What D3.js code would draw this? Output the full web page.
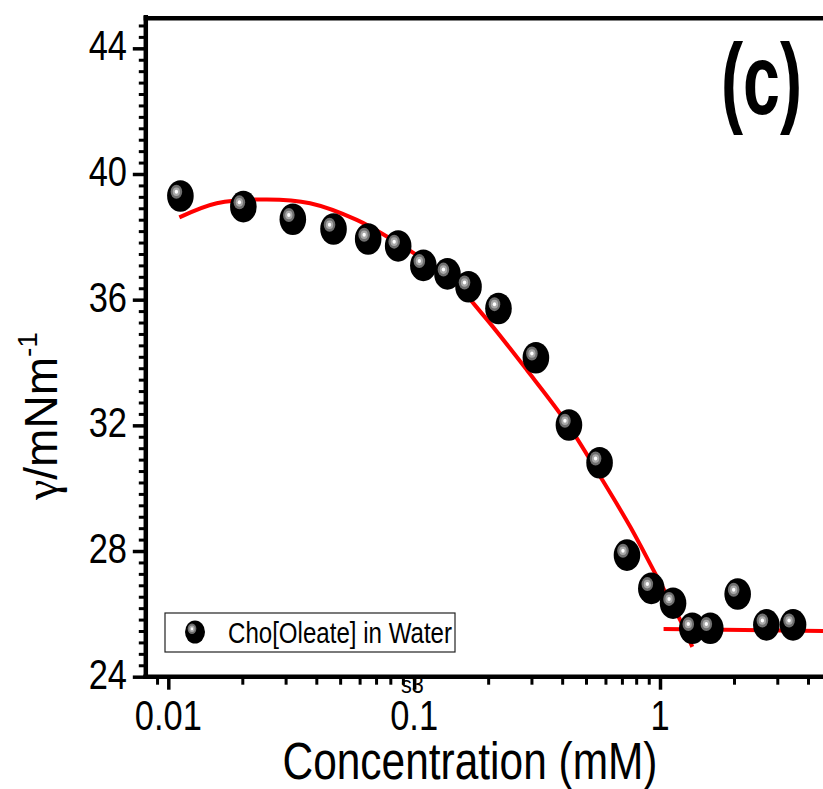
<!DOCTYPE html>
<html>
<head>
<meta charset="utf-8">
<script src="https://cdn.jsdelivr.net/npm/d3@7/dist/d3.min.js"></script>
<style>
  html, body { margin: 0; padding: 0; background: #fff; }
  svg { display: block; }
</style>
</head>
<body>
<svg id="chart" width="823" height="789"></svg>
<script>
// Surface tension of Cho[Oleate] in water vs. concentration
const concentration = [0.0112, 0.0202, 0.0321, 0.0470, 0.0650, 0.0861, 0.109, 0.1366, 0.1664, 0.2203,
                       0.3128, 0.4262, 0.5678, 0.7339, 0.922, 1.13, 1.353, 1.602, 2.07, 2.708, 3.477];
const tension = [39.30, 38.96, 38.56, 38.25, 37.93, 37.71, 37.09, 36.82, 36.41, 35.72,
                 34.15, 32.01, 30.81, 27.87, 26.81, 26.34, 25.54, 25.54, 26.63, 25.65, 25.65];

// fitted curve below the CMC
const fitConc = [0.01109, 0.01574, 0.02514, 0.03773, 0.0584, 0.0798, 0.1026, 0.1401, 0.1914,
                 0.2875, 0.4183, 0.5715, 0.7568, 0.972, 1.209, 1.353];
const fitTension = [38.62, 39.07, 39.19, 39.07, 38.54, 37.95, 37.42, 36.68, 35.50,
                    33.76, 32.07, 30.37, 28.77, 27.18, 25.80, 24.95];
// plateau line above the CMC
const plateauConc = [1.034, 10];
const plateauTension = [25.52, 25.42];

const xMajorTicks = [0.01, 0.1, 1];
const xTickLabels = ["0.01", "0.1", "1"];
const yMajorTicks = [24, 28, 32, 36, 40, 44];
const yTickLabels = ["24", "28", "32", "36", "40", "44"];

const seriesName = "Cho[Oleate] in Water";
const panelLabel = "(c)";

const svg = d3.select("#chart");
const sans = "'Liberation Sans', Arial, sans-serif";

// condensed lettering: squeeze the rendered text horizontally
function condense(sel, factor) {
  sel.each(function () {
    const w = this.getComputedTextLength();
    d3.select(this).attr("textLength", w * factor).attr("lengthAdjust", "spacingAndGlyphs");
  });
}

const plotLeft = 145.8, plotBottom = 676.7, plotTop = 16.9;
const xDomain = [0.0081, 9.5];
const decadePx = 245.85;
const plotRight = plotLeft + (Math.log10(xDomain[1]) - Math.log10(xDomain[0])) * decadePx;

const x = d3.scaleLog().domain(xDomain).range([plotLeft, plotRight]);
const y = d3.scaleLinear().domain([24, 45]).range([plotBottom, plotTop]);

// stray annotation partly under the bottom axis
svg.append("text")
  .attr("x", 401).attr("y", 693)
  .attr("font-family", sans).attr("font-size", 24)
  .text("s3")
  .call(condense, 0.9);

// fitted curve and plateau
const line = d3.line()
  .x(d => x(d[0])).y(d => y(d[1]))
  .curve(d3.curveCatmullRom.alpha(0.5));

svg.append("path")
  .datum(d3.zip(fitConc, fitTension))
  .attr("d", line)
  .attr("fill", "none").attr("stroke", "#ff0000").attr("stroke-width", 4);

svg.append("path")
  .datum(d3.zip(plateauConc, plateauTension))
  .attr("d", d3.line().x(d => x(d[0])).y(d => y(d[1])))
  .attr("fill", "none").attr("stroke", "#ff0000").attr("stroke-width", 4);

// ball marker: black body with a stepped grey highlight
function ball(g, cx, cy, rx, ry) {
  const s = rx / 13.3;
  g.append("ellipse").attr("cx", cx).attr("cy", cy).attr("rx", rx).attr("ry", ry).attr("fill", "#000");
  const hx = cx - 4 * s, hy = cy - 4.3 * s;
  g.append("ellipse").attr("cx", hx).attr("cy", hy).attr("rx", 5.8 * s).attr("ry", 7.0 * s).attr("fill", "#6f6f6f");
  g.append("ellipse").attr("cx", hx).attr("cy", hy).attr("rx", 3.6 * s).attr("ry", 4.3 * s).attr("fill", "#a9a9a9");
  g.append("ellipse").attr("cx", hx).attr("cy", hy).attr("rx", 1.7 * s).attr("ry", 2.0 * s).attr("fill", "#ffffff");
}

const pts = svg.append("g");
d3.zip(concentration, tension).forEach(d => ball(pts, x(d[0]), y(d[1]), 13.3, 15.8));

// axes
function styleAxis(g, w) {
  g.select(".domain").remove();
  g.selectAll(".tick line").attr("stroke", "#000").attr("stroke-width", w);
  g.selectAll(".tick text").remove();
}

const xMinor = x.ticks().filter(v => !xMajorTicks.some(m => Math.abs(m - v) / m < 1e-9));
svg.append("g").attr("transform", `translate(0,${plotBottom})`)
  .call(d3.axisBottom(x).tickValues(xMinor).tickSize(8).tickSizeOuter(0).tickFormat(""))
  .call(g => styleAxis(g, 3));
svg.append("g").attr("transform", `translate(0,${plotBottom})`)
  .call(d3.axisBottom(x).tickValues(xMajorTicks).tickSize(13).tickSizeOuter(0).tickFormat(""))
  .call(g => styleAxis(g, 3.5));

const yMinor = d3.range(24, 45.001, 4 / 11).filter(v => !yMajorTicks.some(m => Math.abs(m - v) < 1e-6));
svg.append("g").attr("transform", `translate(${plotLeft},0)`)
  .call(d3.axisLeft(y).tickValues(yMinor).tickSize(7).tickSizeOuter(0).tickFormat(""))
  .call(g => styleAxis(g, 3));
svg.append("g").attr("transform", `translate(${plotLeft},0)`)
  .call(d3.axisLeft(y).tickValues(yMajorTicks).tickSize(13).tickSizeOuter(0).tickFormat(""))
  .call(g => styleAxis(g, 3.5));

// frame lines
svg.append("line").attr("x1", plotLeft - 2.5).attr("x2", plotRight).attr("y1", plotBottom).attr("y2", plotBottom)
  .attr("stroke", "#000").attr("stroke-width", 4.5);
svg.append("line").attr("x1", plotLeft).attr("x2", plotLeft).attr("y1", plotTop - 2).attr("y2", plotBottom + 2.2)
  .attr("stroke", "#000").attr("stroke-width", 4.5);
svg.append("line").attr("x1", plotLeft - 2.2).attr("x2", plotRight).attr("y1", y(45) + 1.4).attr("y2", y(45) + 1.4)
  .attr("stroke", "#000").attr("stroke-width", 4.5);

// tick labels
svg.append("g").selectAll("text").data(xMajorTicks).join("text")
  .attr("x", d => x(d)).attr("y", 730)
  .attr("text-anchor", "middle")
  .attr("font-family", sans).attr("font-size", 42)
  .text((d, i) => xTickLabels[i])
  .call(condense, 0.82);

svg.append("g").selectAll("text").data(yMajorTicks).join("text")
  .attr("x", 127).attr("y", d => y(d) + 12)
  .attr("text-anchor", "end")
  .attr("font-family", sans).attr("font-size", 42)
  .text((d, i) => yTickLabels[i])
  .call(condense, 0.82);

// axis titles
svg.append("text")
  .attr("x", 470).attr("y", 779)
  .attr("text-anchor", "middle")
  .attr("font-family", sans).attr("font-size", 51)
  .attr("textLength", 375).attr("lengthAdjust", "spacingAndGlyphs")
  .text("Concentration (mM)");

const yt = svg.append("text")
  .attr("transform", "translate(57,500) rotate(-90)")
  .attr("font-family", sans).attr("font-size", 46);
yt.append("tspan").attr("font-family", "'Liberation Serif', 'DejaVu Serif', serif").text("γ");
yt.append("tspan").text("/mNm");
yt.append("tspan").attr("dy", -20).attr("font-size", 28).text("-1");

// panel label
svg.append("text")
  .attr("x", 721).attr("y", 114)
  .attr("font-family", sans)
  .attr("font-weight", "bold").attr("font-size", 101)
  .attr("textLength", 81).attr("lengthAdjust", "spacingAndGlyphs")
  .text(panelLabel);

// legend
const lg = svg.append("g");
lg.append("rect").attr("x", 165).attr("y", 613).attr("width", 290).attr("height", 39)
  .attr("fill", "#fff").attr("stroke", "#222").attr("stroke-width", 1.2);
ball(lg, 195, 632, 10, 11.5);
lg.append("text").attr("x", 228).attr("y", 643)
  .attr("font-family", sans).attr("font-size", 29)
  .attr("textLength", 224).attr("lengthAdjust", "spacingAndGlyphs")
  .text(seriesName);
</script>
</body>
</html>
